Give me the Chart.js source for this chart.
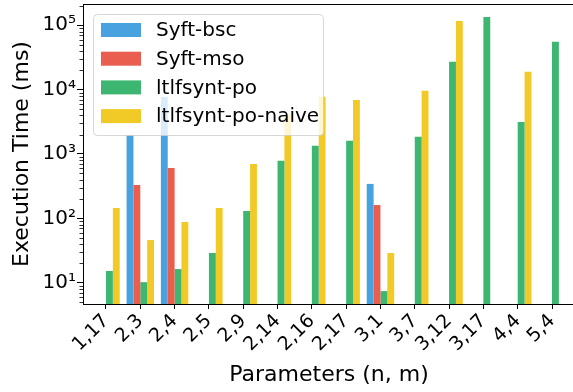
<!DOCTYPE html>
<html>
<head>
<meta charset="utf-8">
<script src="https://cdn.jsdelivr.net/npm/chart.js@4/dist/chart.umd.min.js"></script>
<style>
    html, body { margin: 0; padding: 0; background: #fff; overflow: hidden; }
    #wrap { width: 577px; height: 392px; }
</style>
</head>
<body>
<div id="wrap"><canvas id="chart" width="577" height="392"></canvas></div>
<script>
// Parameters (n, m)
const categories = ['1,17', '2,3', '2,4', '2,5', '2,9', '2,14', '2,16', '2,17', '3,1', '3,7', '3,12', '3,17', '4,4', '5,4'];

// Execution time (ms), null = no bar
const syftBsc = [null, 1980, 7700, null, null, null, null, null, 343, null, null, null, null, null];
const syftMso = [null, 330, 608, null, null, null, null, null, 161, null, null, null, null, null];
const ltlfsyntPo = [15.2, 10.2, 16.3, 29, 130, 782, 1337, 1600, 7.4, 1845, 27000, 135000, 3150, 55300];
const ltlfsyntPoNaive = [145, 46, 88, 145, 702, 4060, 7730, 6930, 29, 9570, 117000, null, 18900, null];

const seriesNames = ['Syft-bsc', 'Syft-mso', 'ltlfsynt-po', 'ltlfsynt-po-naive'];
const seriesColors = ['#48a2df', '#e95e4f', '#3cb670', '#f2ca27'];

const yMajorTicks = [10, 100, 1000, 10000, 100000];
const yTickLabels = ['10¹', '10²', '10³', '10⁴', '10⁵'];

const FONT = 'DejaVu Sans';

function toPoints(values) {
    return categories.map((c, i) => ({ x: i, y: values[i] }));
}

// spines, minor log ticks and the in-axes legend
const decorPlugin = {
    id: 'decor',
    afterDatasetsDraw(chart) {
        const { ctx, chartArea } = chart;
        const y = chart.scales.y;
        ctx.save();
        ctx.strokeStyle = '#000';
        ctx.lineWidth = 1;
        ctx.beginPath();
        ctx.moveTo(chartArea.left, chartArea.top + 0.5);
        ctx.lineTo(chartArea.right, chartArea.top + 0.5);
        ctx.stroke();

        // minor ticks
        ctx.lineWidth = 0.8;
        for (let k = 0; k <= 5; k++) {
            for (let m = 2; m <= 9; m++) {
                const v = m * Math.pow(10, k);
                if (v < y.min || v > y.max) continue;
                const py = Math.round(y.getPixelForValue(v)) + 0.5;
                ctx.beginPath();
                ctx.moveTo(chartArea.left - 3.5, py);
                ctx.lineTo(chartArea.left, py);
                ctx.stroke();
            }
        }
        ctx.restore();
    },
    afterDraw(chart) {
        const { ctx, chartArea } = chart;
        const x0 = chartArea.left + 10, y0 = chartArea.top + 10;
        const w = 230, h = 121, r = 4;
        ctx.save();
        ctx.beginPath();
        ctx.roundRect(x0 + 0.5, y0 + 0.5, w, h, r);
        ctx.fillStyle = 'rgba(255,255,255,0.8)';
        ctx.fill();
        ctx.strokeStyle = 'rgba(204,204,204,0.8)';
        ctx.lineWidth = 1;
        ctx.stroke();

        ctx.font = '20px "' + FONT + '"';
        ctx.textBaseline = 'middle';
        ctx.fillStyle = '#000';
        chart.data.datasets.forEach((ds, i) => {
            const cy = y0 + 16 + i * 28.7;
            ctx.fillStyle = ds.backgroundColor;
            ctx.fillRect(x0 + 8, cy - 7, 40, 14);
            ctx.fillStyle = '#000';
            ctx.fillText(ds.label, x0 + 63, cy + 1);
        });
        ctx.restore();
    }
};

new Chart(document.getElementById('chart'), {
    type: 'bar',
    data: {
        datasets: [syftBsc, syftMso, ltlfsyntPo, ltlfsyntPoNaive].map((vals, i) => ({
            label: seriesNames[i],
            data: toPoints(vals),
            backgroundColor: seriesColors[i],
            borderWidth: 0,
            categoryPercentage: 0.8,
            barPercentage: 1.0
        }))
    },
    options: {
        responsive: false,
        animation: false,
        devicePixelRatio: 1,
        layout: { padding: { top: 4, right: 2, left: 0, bottom: 0 } },
        plugins: {
            legend: { display: false },
            tooltip: { enabled: false }
        },
        scales: {
            x: {
                type: 'linear',
                offset: false,
                min: -0.67,
                max: 13.67,
                afterBuildTicks: (scale) => {
                    scale.ticks = categories.map((c, i) => ({ value: i }));
                },
                afterFit: (scale) => {
                    scale.height = 88;
                    scale.paddingLeft = 0;
                    scale.paddingRight = 0;
                },
                ticks: {
                    autoSkip: false,
                    minRotation: 45,
                    maxRotation: 45,
                    padding: 1,
                    color: '#000',
                    font: { family: FONT, size: 19 },
                    callback: (v) => categories[v]
                },
                grid: {
                    offset: false,
                    drawOnChartArea: false,
                    tickLength: 5,
                    tickColor: '#000',
                    tickWidth: 1
                },
                border: { display: true, color: '#000', width: 1 },
                title: {
                    display: true,
                    text: 'Parameters (n, m)',
                    color: '#000',
                    font: { family: FONT, size: 22 },
                    padding: { top: 0, bottom: 4 }
                }
            },
            y: {
                type: 'logarithmic',
                min: 4.67,
                max: 214000,
                afterBuildTicks: (scale) => {
                    scale.ticks = yMajorTicks.map(v => ({ value: v }));
                },
                afterFit: (scale) => {
                    scale.width = 83;
                    scale.paddingTop = 0;
                    scale.paddingBottom = 0;
                },
                ticks: {
                    autoSkip: false,
                    padding: 1,
                    color: '#000',
                    font: { family: FONT, size: 20 },
                    callback: (v) => yTickLabels[yMajorTicks.indexOf(v)]
                },
                grid: {
                    drawOnChartArea: false,
                    tickLength: 6,
                    tickColor: '#000',
                    tickWidth: 1
                },
                border: { display: true, color: '#000', width: 1 },
                title: {
                    display: true,
                    text: 'Execution Time (ms)',
                    color: '#000',
                    font: { family: FONT, size: 22 },
                    padding: { top: 9, bottom: 0 }
                }
            }
        }
    },
    plugins: [decorPlugin]
});
</script>
</body>
</html>
